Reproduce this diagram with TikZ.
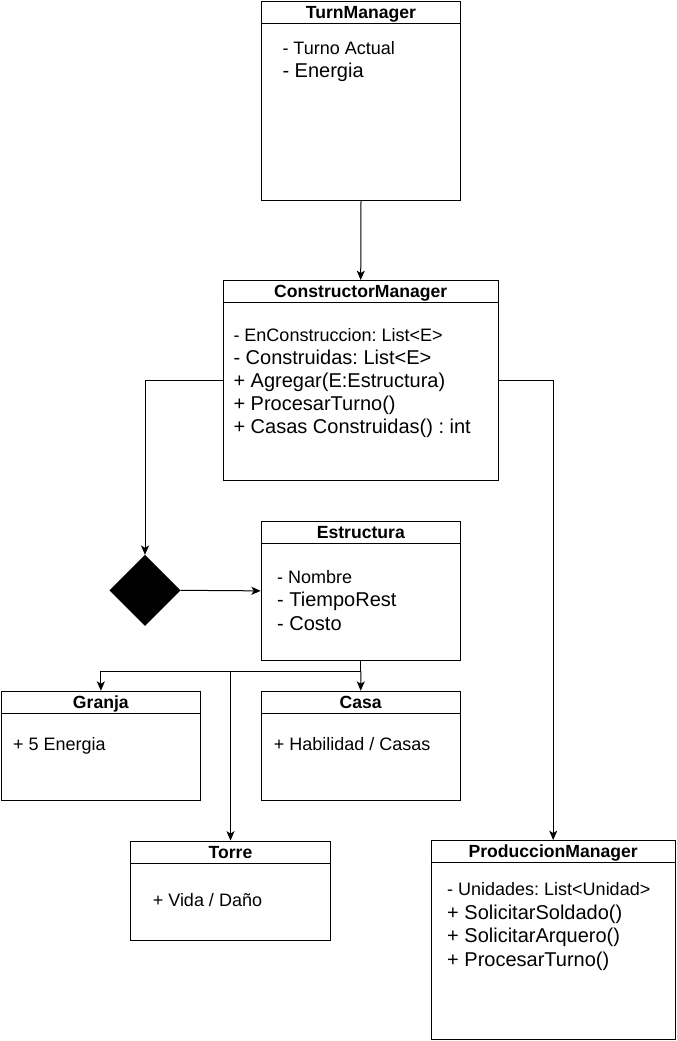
\documentclass[tikz,border=0pt]{standalone}
\usepackage{fontspec}
\setmainfont{Liberation Sans}
\usetikzlibrary{arrows.meta,shapes.geometric}
\frenchspacing

\begin{document}
\begin{tikzpicture}[x=0.75pt,y=-0.75pt,line width=0.75pt,
  >={Stealth[length=7pt,width=6pt,inset=1.8pt]}]
\tikzstyle{classbox}=[draw,rectangle,anchor=north west,inner sep=0pt]
\tikzstyle{classname}=[anchor=base,inner sep=0pt,font=\bfseries\fontsize{13.2}{15}\selectfont]
\tikzstyle{attrsmall}=[anchor=base west,inner sep=0pt,font=\fontsize{13.5}{16}\selectfont]
\tikzstyle{attrbig}=[anchor=base west,inner sep=0pt,font=\fontsize{15}{18}\selectfont]
\tikzstyle{assoc}=[->]

\fill[white] (0,0) rectangle (676,1041);
\useasboundingbox (0,0) rectangle (676,1041);

% class boxes
\node[classbox,minimum width=149.25pt,minimum height=149.25pt] (turn)   at (261,1)       {};
\node[classbox,minimum width=206.25pt,minimum height=150pt]    (ctor)   at (222.7,280)   {};
\node[classbox,minimum width=149.5pt,minimum height=104.5pt]   (estr)   at (260.7,520.7) {};
\node[classbox,minimum width=149.5pt,minimum height=82pt]      (granja) at (0.7,690.7)   {};
\node[classbox,minimum width=149.5pt,minimum height=82pt]      (casa)   at (260.5,690.7) {};
\node[classbox,minimum width=150pt,minimum height=74.6pt]      (torre)  at (130,840.5)   {};
\node[classbox,minimum width=183pt,minimum height=149pt]       (prod)   at (430.7,840)   {};

% header lines and names
\foreach \c/\t in {turn/TurnManager,ctor/ConstructorManager,estr/Estructura,granja/Granja,casa/Casa,torre/Torre,prod/ProduccionManager}{
  \draw ([yshift=-17pt]\c.north west) -- ([yshift=-17pt]\c.north east);
  \node[classname] (\c name) at ([yshift=-13.3pt]\c.north) {\t};
}

% members
\node[attrsmall] (turn1) at (282,55) {- Turno Actual};
\node[attrbig]   (turn2) at (282,78) {- Energia};

\node[attrsmall] (ctor1) at (233,341) {- EnConstruccion: List<E>};
\node[attrbig]   (ctor2) at (233,364) {- Construidas: List<E>};
\node[attrbig]   (ctor3) at (233,387) {+ Agregar(E:Estructura)};
\node[attrbig]   (ctor4) at (233,410) {+ ProcesarTurno()};
\node[attrbig]   (ctor5) at (233,433) {+ Casas Construidas() : int};

\node[attrsmall] (estr1) at (276.7,583)   {- Nombre};
\node[attrbig]   (estr2) at (276.7,606.5) {- TiempoRest};
\node[attrbig]   (estr3) at (276.7,630)   {- Costo};

\node[attrsmall] (granja1) at (12.7,750.7)  {+ 5 Energia};
\node[attrsmall] (casa1)   at (273.3,750.7) {+ Habilidad / Casas};
\node[attrsmall] (torre1)  at (152.3,906)   {+ Vida / Daño};

\node[attrsmall] (prod1) at (446.7,895)   {- Unidades: List<Unidad>};
\node[attrbig]   (prod2) at (446.7,919)   {+ SolicitarSoldado()};
\node[attrbig]   (prod3) at (446.7,942.5) {+ SolicitarArquero()};
\node[attrbig]   (prod4) at (446.7,966)   {+ ProcesarTurno()};

% aggregation diamond
\node[diamond,fill=black,draw,inner sep=0pt,minimum width=52.5pt,minimum height=52.5pt] (agg) at (145,590.3) {};

% connectors
\coordinate (split) at ([yshift=-7.5pt]estr.south);

\draw[assoc] (turn.south) -- (ctor.north);
\draw[assoc] (ctor.west) -| (agg.north);
\draw[assoc] (agg.east) -- (estr.west);
\draw[assoc] (ctor.east) -| (prod.north);
\draw (estr.south) -- (split);
\draw[assoc] (split) -| (granja.north);
\draw[assoc] (split) -- (casa.north);
\draw[assoc] (split) -| (torre.north);
\end{tikzpicture}
\end{document}
